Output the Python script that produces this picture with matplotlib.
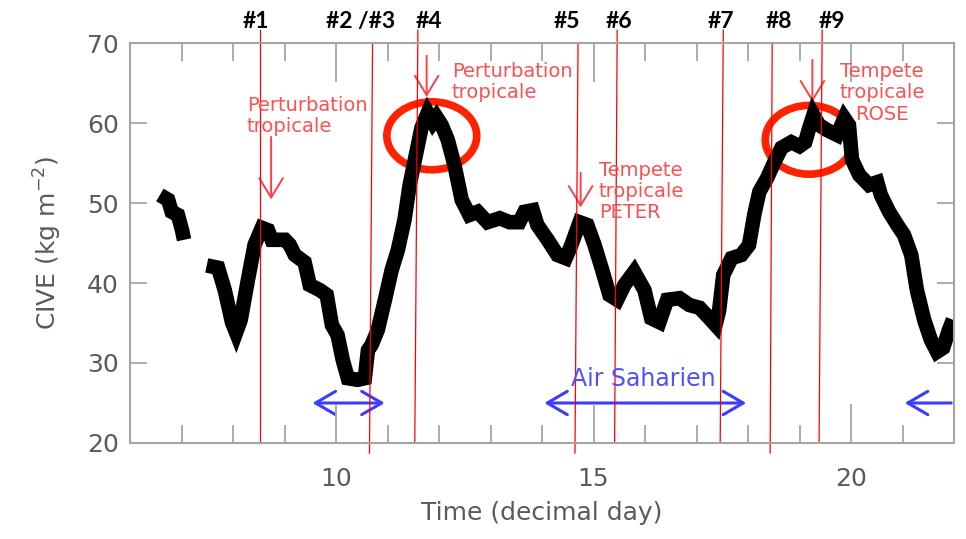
import numpy as np
import matplotlib.pyplot as plt
from matplotlib.patches import Ellipse, FancyArrowPatch

# CIVE record: short opening piece, then the main trace
day_a = [6.58, 6.74, 6.81, 6.93, 7.01, 7.05]
cive_a = [51.0, 50.4, 48.9, 48.5, 46.6, 45.4]

day_b = [7.49, 7.71, 7.84, 7.98, 8.06, 8.15, 8.29, 8.42, 8.56, 8.68, 8.75, 9.01,
         9.10, 9.20, 9.39, 9.49, 9.69, 9.82, 9.92, 10.03, 10.13, 10.23, 10.42,
         10.56, 10.62, 10.69, 10.81, 10.95, 11.08, 11.20, 11.33, 11.43, 11.57,
         11.66, 11.78, 11.88, 11.95, 12.05, 12.17, 12.30, 12.44, 12.59, 12.75,
         12.94, 13.18, 13.37, 13.56, 13.66, 13.82, 13.91, 14.11, 14.30, 14.46,
         14.57, 14.73, 14.88, 15.02, 15.17, 15.31, 15.46, 15.60, 15.79, 15.99,
         16.12, 16.28, 16.43, 16.67, 16.86, 17.06, 17.25, 17.37, 17.44, 17.52,
         17.68, 17.87, 18.02, 18.12, 18.22, 18.37, 18.51, 18.65, 18.84, 19.00,
         19.11, 19.19, 19.27, 19.38, 19.54, 19.73, 19.87, 19.96, 20.02, 20.16,
         20.35, 20.51, 20.58, 20.74, 20.90, 21.03, 21.17, 21.28, 21.42, 21.55,
         21.67, 21.79, 21.90, 21.98]
cive_b = [42.2, 41.9, 39.1, 35.1, 33.8, 35.4, 40.4, 44.8, 46.9, 46.6, 45.4, 45.4,
          44.8, 43.5, 42.6, 39.75, 39.1, 38.5, 34.75, 33.5, 30.4, 28.1, 27.9,
          28.1, 31.6, 32.25, 34.1, 37.9, 41.6, 44.1, 47.9, 52.25, 56.6,
          59.4, 61.25, 60.1, 60.75, 59.75, 57.9, 54.75, 50.4, 48.5, 48.9,
          47.6, 48.1, 47.6, 47.6, 48.9, 49.1, 47.25, 45.4, 43.5, 43.1,
          44.75, 47.6, 47.25, 44.75, 41.6, 38.5, 37.9, 39.75, 41.4, 39.1,
          35.6, 35.1, 37.9, 38.1, 37.25, 36.9, 35.6, 34.75, 36.6, 41.0,
          43.1, 43.5, 44.75, 48.5, 51.4, 53.1, 55.1, 56.9, 57.6, 57.1,
          57.6, 59.4, 61.0, 59.75, 59.1, 58.5, 60.6, 59.75, 55.4, 53.5,
          52.25, 52.6, 51.0, 48.9, 47.25, 46.0, 43.5, 39.1, 35.4, 32.9,
          31.4, 31.9, 34.1, 35.4]

# numbered events (vertical red lines)
event_labels = ['#1', '#2 /#3', '#4', '#5', '#6', '#7', '#8', '#9']
event_label_x = [8.44, 10.48, 11.80, 14.49, 15.49, 17.48, 18.60, 19.62]
line_top_x = [8.52, 10.71, 11.59, 14.70, 15.46, 17.52, 18.47, 19.44]
line_bot_x = [8.52, 10.65, 11.53, 14.64, 15.41, 17.46, 18.43, 19.38]
line_long = [False, True, False, True, False, False, True, False]

# weather system notes
note_text = ['Perturbation\ntropicale', 'Perturbation\ntropicale',
             'Tempete\ntropicale\nPETER', 'Tempete\ntropicale\nROSE']
note_x = [8.27, 12.25, 15.10, 20.60]
note_y = [63.4, 67.6, 55.3, 67.6]
note_ha = ['left', 'left', 'left', 'center']
arrow_x = [8.74, 11.76, 14.75, 19.25]
arrow_y0 = [58.6, 68.75, 54.1, 68.25]
arrow_y1 = [50.1, 62.9, 49.1, 62.25]

# circled peaks
circle_x = [11.86, 19.19]
circle_y = [58.4, 57.9]
circle_w = [1.745, 1.71]
circle_h = [8.5, 8.6]

# Saharan air spans
sahara_start = [9.49, 13.99, 20.99]
sahara_end = [11.0, 18.02, 22.0]
sahara_y = 25.0

grey = '#a5a5a5'
blue = '#3c3cff'

fig = plt.figure(figsize=(9.66, 5.39), dpi=100)
ax = fig.add_axes([130 / 966, 1 - 443 / 539, 824 / 966, 400 / 539])

ax.plot(day_a, cive_a, color='black', lw=10.5, solid_joinstyle='miter', solid_capstyle='butt')
ax.plot(day_b, cive_b, color='black', lw=10.5, solid_joinstyle='miter', solid_capstyle='butt')

ax.set_xlim(6, 22)
ax.set_ylim(20, 70)
ax.set_xticks([10, 15, 20])
ax.set_xticks(np.arange(6, 23, 1), minor=True)
ax.set_yticks(np.arange(20, 71, 10))

for s in ax.spines.values():
    s.set_color(grey)
    s.set_linewidth(1.5)
ax.tick_params(axis='both', which='both', direction='in', color=grey, width=1.3,
               labelcolor='#5a5a5a', labelsize=18, top=True, right=True)
ax.tick_params(axis='x', which='major', length=28, pad=17)
ax.tick_params(axis='x', which='minor', length=13)
ax.tick_params(axis='y', which='major', length=12, pad=8)

ax.set_xlabel('Time (decimal day)', fontsize=18, color='#5a5a5a')
ax.set_ylabel('CIVE (kg m$^{-2}$)', fontsize=18, color='#5a5a5a')
ax.xaxis.set_label_coords(0.5, -0.145)
ax.yaxis.set_label_coords(-0.1, 0.5)
ax.yaxis.label.set_verticalalignment('center')

for xt, xb, lng in zip(line_top_x, line_bot_x, line_long):
    if lng:
        ax.plot([xt, xb], [70, 18.75], color='red', lw=0.9, clip_on=False)
    else:
        ax.plot([xt, xb], [71.6, 20], color='red', lw=0.9, clip_on=False)

for lab, x in zip(event_labels, event_label_x):
    ax.text(x, 72.7, lab, ha='center', va='center', fontsize=16.5,
            family='Lato', fontweight='bold', color='black')

for t, x, y, ha in zip(note_text, note_x, note_y, note_ha):
    ax.text(x, y, t, ha=ha, va='top', multialignment=ha, fontsize=14,
            color='#ff5050', linespacing=1.15)

for x, y0, y1 in zip(arrow_x, arrow_y0, arrow_y1):
    ax.add_patch(FancyArrowPatch((x, y0), (x, y1), arrowstyle='->,head_length=1.4,head_width=0.85',
                                 mutation_scale=10, color='#ff4040', lw=1.4))

for x, y, w, h in zip(circle_x, circle_y, circle_w, circle_h):
    ax.add_patch(Ellipse((x, y), w, h, fill=False, ec='#ff2200', lw=5.5))

for i, (x0, x1) in enumerate(zip(sahara_start, sahara_end)):
    style = '<->' if i < 2 else '<-'
    ax.add_patch(FancyArrowPatch((x0, sahara_y), (x1, sahara_y),
                                 arrowstyle=style + ',head_length=1.2,head_width=0.7',
                                 mutation_scale=12, color=blue, lw=2.2, clip_on=False))
ax.text(15.97, 28.0, 'Air Saharien', ha='center', va='center', fontsize=17, color='#5050ff')

fig.savefig('out.png', dpi=100)
